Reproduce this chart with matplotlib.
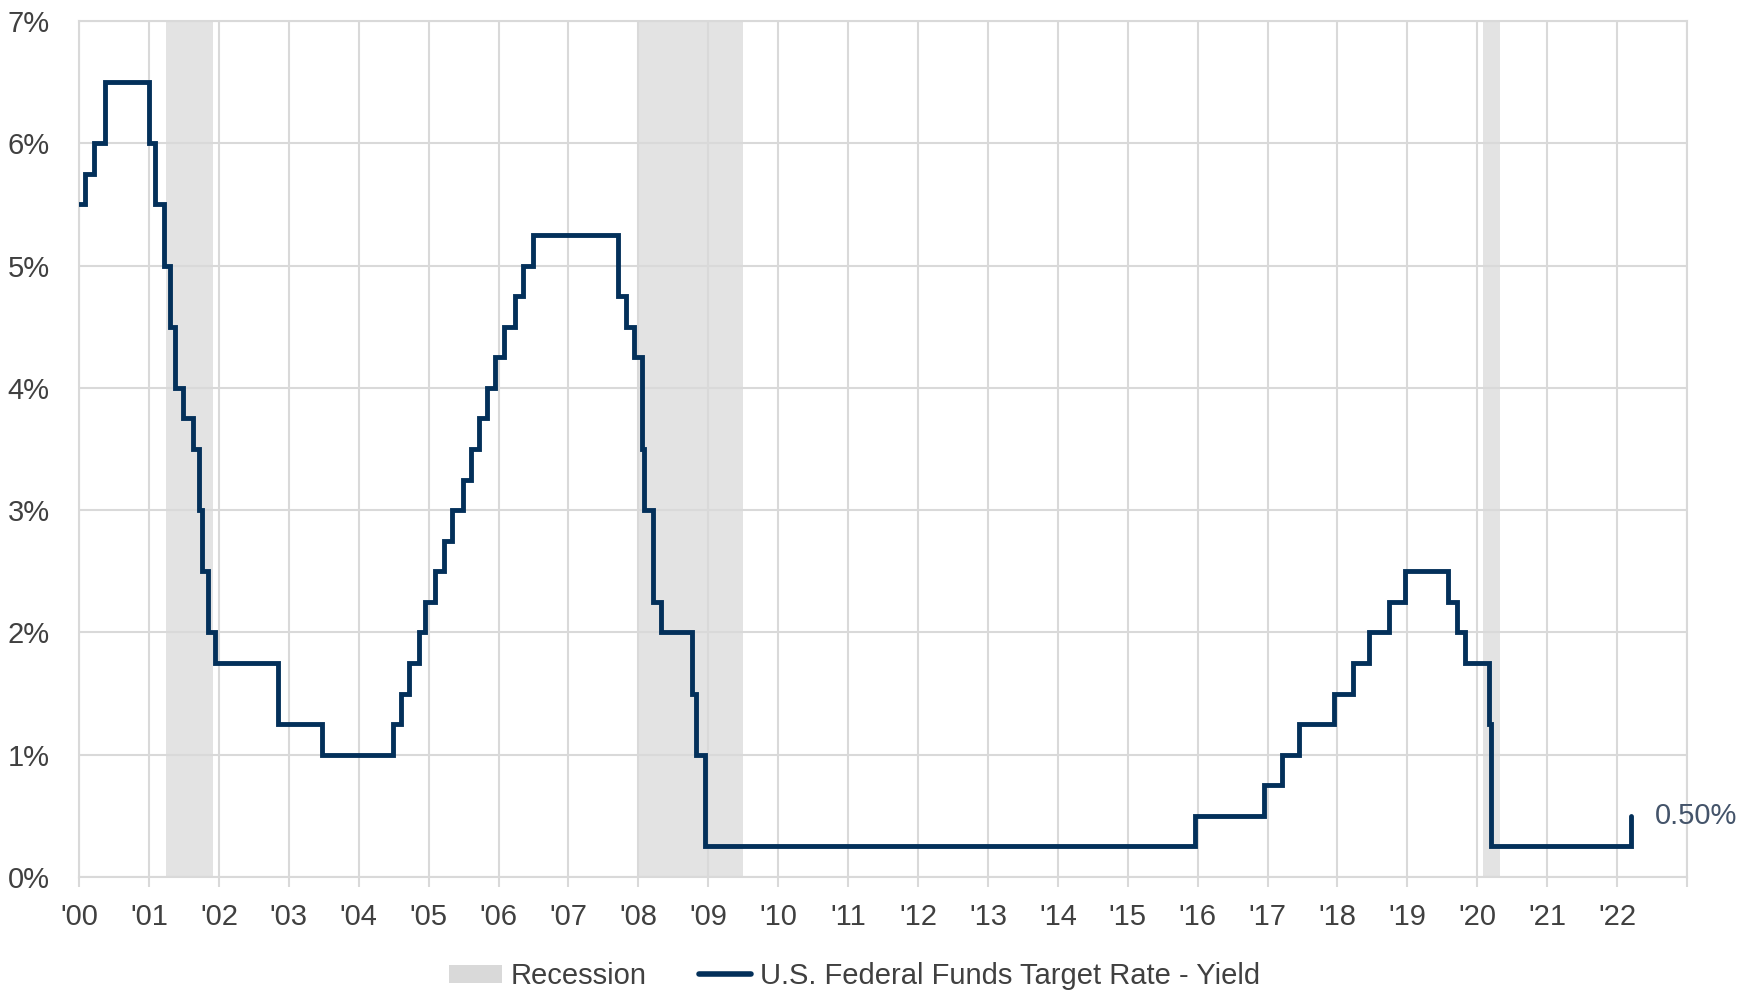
import datetime as dt
import matplotlib
matplotlib.use("Agg")
import matplotlib.pyplot as plt
from matplotlib.patches import Patch
from matplotlib.lines import Line2D

# Fed funds target rate (upper bound), change dates and new level in %
change_dates = [
    "2000-01-01", "2000-02-02", "2000-03-21", "2000-05-16",
    "2001-01-03", "2001-01-31", "2001-03-20", "2001-04-18", "2001-05-15",
    "2001-06-27", "2001-08-21", "2001-09-17", "2001-10-02", "2001-11-06",
    "2001-12-11", "2002-11-06", "2003-06-25",
    "2004-06-30", "2004-08-10", "2004-09-21", "2004-11-10", "2004-12-14",
    "2005-02-02", "2005-03-22", "2005-05-03", "2005-06-30", "2005-08-09",
    "2005-09-20", "2005-11-01", "2005-12-13",
    "2006-01-31", "2006-03-28", "2006-05-10", "2006-06-29",
    "2007-09-18", "2007-10-31", "2007-12-11",
    "2008-01-22", "2008-01-30", "2008-03-18", "2008-04-30", "2008-10-08",
    "2008-10-29", "2008-12-16",
    "2015-12-16", "2016-12-14",
    "2017-03-15", "2017-06-14", "2017-12-13",
    "2018-03-21", "2018-06-13", "2018-09-26", "2018-12-19",
    "2019-07-31", "2019-09-18", "2019-10-30",
    "2020-03-03", "2020-03-15",
    "2022-03-16",
]
rates = [
    5.50, 5.75, 6.00, 6.50,
    6.00, 5.50, 5.00, 4.50, 4.00,
    3.75, 3.50, 3.00, 2.50, 2.00,
    1.75, 1.25, 1.00,
    1.25, 1.50, 1.75, 2.00, 2.25,
    2.50, 2.75, 3.00, 3.25, 3.50,
    3.75, 4.00, 4.25,
    4.50, 4.75, 5.00, 5.25,
    4.75, 4.50, 4.25,
    3.50, 3.00, 2.25, 2.00, 1.50,
    1.00, 0.25,
    0.50, 0.75,
    1.00, 1.25, 1.50,
    1.75, 2.00, 2.25, 2.50,
    2.25, 2.00, 1.75,
    1.25, 0.25,
    0.50,
]

recession_starts = ["2001-04-01", "2007-12-25", "2020-02-01"]
recession_ends = ["2001-11-30", "2009-06-30", "2020-04-30"]

years = list(range(2000, 2024))
year_labels = ["'%02d" % (y % 100) for y in years[:-1]] + [""]

TXT = "#404040"
GRID = "#d9d9d9"
NAVY = "#03305a"

plt.rcParams["font.family"] = ["Liberation Sans", "DejaVu Sans"]
plt.rcParams["font.size"] = 21


def d(s):
    return dt.datetime.strptime(s, "%Y-%m-%d")


x = [d(s) for s in change_dates]

fig = plt.figure(figsize=(17.48, 9.96), dpi=100)
ax = fig.add_axes([0.0452, 0.1195, 0.9199, 0.8594])

# recession bands
for s, e in zip(recession_starts, recession_ends):
    ax.axvspan(d(s), d(e), color="#e3e3e3", lw=0, zorder=0.2)

ax.step(x, rates, where="post", color=NAVY, lw=3.5,
        solid_joinstyle="miter", solid_capstyle="round", zorder=3)

ax.annotate("%.2f%%" % rates[-1], xy=(x[-1], rates[-1]), xytext=(17, 0),
            textcoords="offset points", va="center", ha="left",
            color="#44546a", fontsize=21)

ax.set_xlim(dt.datetime(2000, 1, 1), dt.datetime(2023, 1, 1))
ax.set_ylim(0, 7)
ax.set_xticks([dt.datetime(y, 1, 1) for y in years])
ax.set_xticklabels(year_labels)
ax.set_yticks(range(0, 8))
ax.set_yticklabels(["%d%%" % v for v in range(0, 8)])

ax.set_axisbelow(True)
ax.grid(True, color=GRID, lw=1.5)
for sp in ax.spines.values():
    sp.set_color(GRID)
    sp.set_linewidth(1.5)
ax.tick_params(axis="x", colors=GRID, length=7, width=1.5, pad=12,
               labelcolor=TXT, labelsize=21)
ax.tick_params(axis="y", length=0, pad=21, labelcolor=TXT, labelsize=21)

handles = [
    Patch(facecolor=GRID, edgecolor="none", label="Recession"),
    Line2D([], [], color=NAVY, lw=4, solid_capstyle="round",
           label="U.S. Federal Funds Target Rate - Yield"),
]
leg = fig.legend(handles=handles, loc="center", ncol=2,
                 bbox_to_anchor=(0.489, 0.02), frameon=False,
                 handlelength=1.8, handleheight=0.6, handletextpad=0.3,
                 columnspacing=1.8, fontsize=21)
for t in leg.get_texts():
    t.set_color(TXT)

fig.savefig("out.png", dpi=100)
